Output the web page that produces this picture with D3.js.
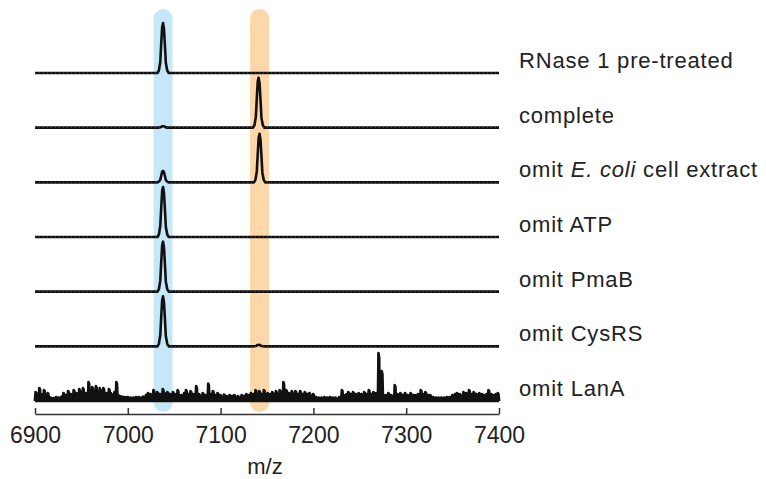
<!DOCTYPE html>
<html>
<head>
<meta charset="utf-8">
<script src="https://cdn.jsdelivr.net/npm/d3@7"></script>
<style>
  html, body { margin: 0; padding: 0; background: #fff; }
  svg text { font-family: "Liberation Sans", Arial, Helvetica, sans-serif; fill: #222; }
</style>
</head>
<body>
<svg id="chart" width="766" height="479"></svg>
<script>
// ---------------- data ----------------
const traceLabels = [
  "RNase 1 pre-treated",
  "complete",
  "omit E. coli cell extract",
  "omit ATP",
  "omit PmaB",
  "omit CysRS",
  "omit LanA"
];
const xTicks = [6900, 7000, 7100, 7200, 7300, 7400];
const xDomain = [6900, 7400];
const highlightCenters = [7038, 7142];
const highlightColors = ["#c6e7f8", "#fdd6aa"];

// peak profile (offset in m/z, relative intensity)
const profileOffsets = [-6, -4.5, -3, -2, -1, 0, 1, 2, 3, 4.5, 6];
const profileValues  = [0, 0.05, 0.22, 0.58, 0.92, 1, 0.88, 0.55, 0.2, 0.05, 0];

// peaks per trace: [m/z, relative height]
const peaksRNase    = [[7038, 1.0]];
const peaksComplete = [[7038, 0.03], [7141, 1.0]];
const peaksEcoli    = [[7038, 0.23], [7142, 0.97]];
const peaksATP      = [[7038, 1.0]];
const peaksPmaB     = [[7038, 1.0]];
const peaksCysRS    = [[7038, 1.0], [7141, 0.03]];

// noisy "omit LanA" trace: spike m/z and heights (relative, 1 = full peak)
const lanaSpikeMz = [6901,6903,6905,6907,6910,6912,6914,6917,6920,6923,6926,6929,6931,6934,6936,6939,6942,6945,6948,6950,6952,6955,6958,6960,6962,6964,6966,6968,6970,6972,6974,6977,6980,6982,6984,6986,6988,6991,6994,6997,7000,7003,7006,7009,7012,7015,7017,7020,7022,7025,7028,7030,7032,7035,7038,7040,7043,7046,7049,7051,7054,7056,7058,7061,7063,7066,7068,7071,7074,7077,7081,7084,7087,7090,7092,7095,7097,7100,7104,7107,7110,7113,7115,7119,7123,7126,7128,7131,7133,7136,7138,7140,7142,7145,7147,7149,7151,7154,7156,7158,7160,7162,7164,7166,7168,7171,7174,7177,7179,7181,7184,7186,7189,7191,7194,7196,7200,7203,7206,7209,7212,7215,7218,7221,7224,7228,7231,7233,7236,7238,7241,7243,7246,7249,7252,7255,7258,7260,7263,7265,7268,7270.5,7272.5,7274,7278,7281,7284,7288,7291,7294,7297,7299,7302,7305,7308,7310,7313,7316,7319,7321,7324,7326,7329,7332,7335,7338,7341,7344,7347,7350,7353,7355,7358,7362,7365,7368,7371,7373,7376,7379,7382,7384,7387,7389,7392,7395,7397,7399];
const lanaSpikeH  = [0.18,0.12,0.26,0.14,0.22,0.12,0.16,0.07,0.06,0.08,0.07,0.09,0.16,0.12,0.2,0.14,0.22,0.16,0.24,0.18,0.26,0.16,0.38,0.22,0.28,0.2,0.3,0.18,0.26,0.2,0.26,0.16,0.24,0.16,0.12,0.18,0.38,0.11,0.09,0.08,0.08,0.07,0.07,0.08,0.08,0.07,0.09,0.12,0.16,0.14,0.22,0.14,0.18,0.14,0.24,0.16,0.18,0.14,0.18,0.14,0.22,0.12,0.12,0.16,0.22,0.14,0.2,0.14,0.3,0.14,0.16,0.12,0.35,0.14,0.2,0.12,0.16,0.12,0.13,0.1,0.12,0.1,0.12,0.1,0.12,0.1,0.14,0.12,0.16,0.14,0.22,0.14,0.2,0.14,0.22,0.14,0.16,0.14,0.18,0.14,0.2,0.14,0.22,0.16,0.38,0.22,0.16,0.2,0.14,0.2,0.14,0.2,0.14,0.18,0.14,0.16,0.14,0.08,0.07,0.07,0.08,0.07,0.08,0.07,0.07,0.08,0.22,0.12,0.14,0.18,0.14,0.18,0.14,0.16,0.14,0.18,0.14,0.22,0.14,0.18,0.16,0.96,0.45,0.6,0.12,0.16,0.12,0.32,0.14,0.16,0.12,0.16,0.12,0.16,0.12,0.12,0.14,0.22,0.14,0.18,0.12,0.12,0.08,0.07,0.07,0.07,0.07,0.08,0.08,0.12,0.14,0.16,0.14,0.18,0.16,0.22,0.14,0.18,0.14,0.16,0.14,0.12,0.14,0.22,0.14,0.12,0.14,0.16];

// --------------- layout ---------------
const svg = d3.select("#chart");
const x = d3.scaleLinear().domain(xDomain).range([35, 499]);
const yBase = d3.scalePoint().domain(traceLabels).range([73, 401]);
const peakPx = 50; // pixel height of relative intensity 1

function peakSeries(peaks) {
  const pts = [[xDomain[0], 0]];
  peaks.slice().sort((a, b) => a[0] - b[0]).forEach(([c, h]) => {
    profileOffsets.forEach((o, i) => pts.push([c + o, h * profileValues[i]]));
  });
  pts.push([xDomain[1], 0]);
  return pts;
}
function spikeSeries(mz, hs) {
  const pts = [[xDomain[0], 0]];
  mz.forEach((m, i) => {
    pts.push([m - 1.0, 0.04]);
    pts.push([m - 0.4, hs[i]]);
    pts.push([m + 0.4, hs[i] * 0.9]);
    pts.push([m + 1.0, 0.04]);
  });
  pts.push([xDomain[1], 0]);
  return pts;
}

const traces = [
  peakSeries(peaksRNase),
  peakSeries(peaksComplete),
  peakSeries(peaksEcoli),
  peakSeries(peaksATP),
  peakSeries(peaksPmaB),
  peakSeries(peaksCysRS),
  spikeSeries(lanaSpikeMz, lanaSpikeH)
];

// highlight bands
svg.append("g").selectAll("rect")
  .data(highlightCenters)
  .join("rect")
  .attr("x", d => x(d) - 9.5)
  .attr("width", 19)
  .attr("y", 9)
  .attr("height", 403)
  .attr("rx", 9.5)
  .attr("fill", (d, i) => highlightColors[i]);

// traces
const g = svg.append("g");
traces.forEach((pts, i) => {
  const base = yBase(traceLabels[i]);
  const line = d3.line()
    .x(d => x(d[0]))
    .y(d => base - d[1] * peakPx);
  if (i === 6) {
    g.append("line")
      .attr("x1", x(xDomain[0])).attr("x2", x(xDomain[1]))
      .attr("y1", base - 0.8).attr("y2", base - 0.8)
      .attr("stroke", "#111").attr("stroke-width", 4);
  }
  g.append("path")
    .attr("d", line(pts))
    .attr("fill", "none")
    .attr("stroke", "#111")
    .attr("stroke-width", i === 6 ? 2.6 : 2.6)
    .attr("stroke-linejoin", "round");
  if (i < 6) {
    // baseline noise texture
    g.append("line")
      .attr("x1", x(xDomain[0])).attr("x2", x(xDomain[1]))
      .attr("y1", base).attr("y2", base)
      .attr("stroke", "#fff")
      .attr("stroke-width", 0.6)
      .attr("stroke-dasharray", "1 3")
      .attr("opacity", 0.4);
  }
});

// labels
const lab = svg.append("g");
traceLabels.forEach((t, i) => {
  const txt = lab.append("text")
    .attr("x", 519)
    .attr("y", yBase(t) - 5)
    .attr("font-size", 22)
    .attr("letter-spacing", 0.8);
  if (t.indexOf("E. coli") >= 0) {
    txt.append("tspan").text("omit ");
    txt.append("tspan").attr("font-style", "italic").text("E. coli");
    txt.append("tspan").text(" cell extract");
  } else {
    txt.text(t);
  }
});

// x axis
const axis = d3.axisBottom(x).tickValues(xTicks).tickSize(-6).tickSizeOuter(0).tickPadding(12).tickFormat(d3.format("d"));
const ax = svg.append("g").attr("transform", "translate(0,414)").call(axis);
ax.select(".domain").attr("stroke", "#333").attr("stroke-width", 1.5);
ax.selectAll(".tick line").attr("stroke", "#333").attr("stroke-width", 1.5);
ax.selectAll(".tick text")
  .attr("font-size", 23)
  .attr("fill", "#222")
  .attr("font-family", "'Liberation Sans', Arial, sans-serif")
  .attr("dy", "0.71em")
  .attr("y", 13);

svg.append("text")
  .attr("x", 265)
  .attr("y", 474)
  .attr("text-anchor", "middle")
  .attr("font-size", 22)
  .text("m/z");
</script>
</body>
</html>
